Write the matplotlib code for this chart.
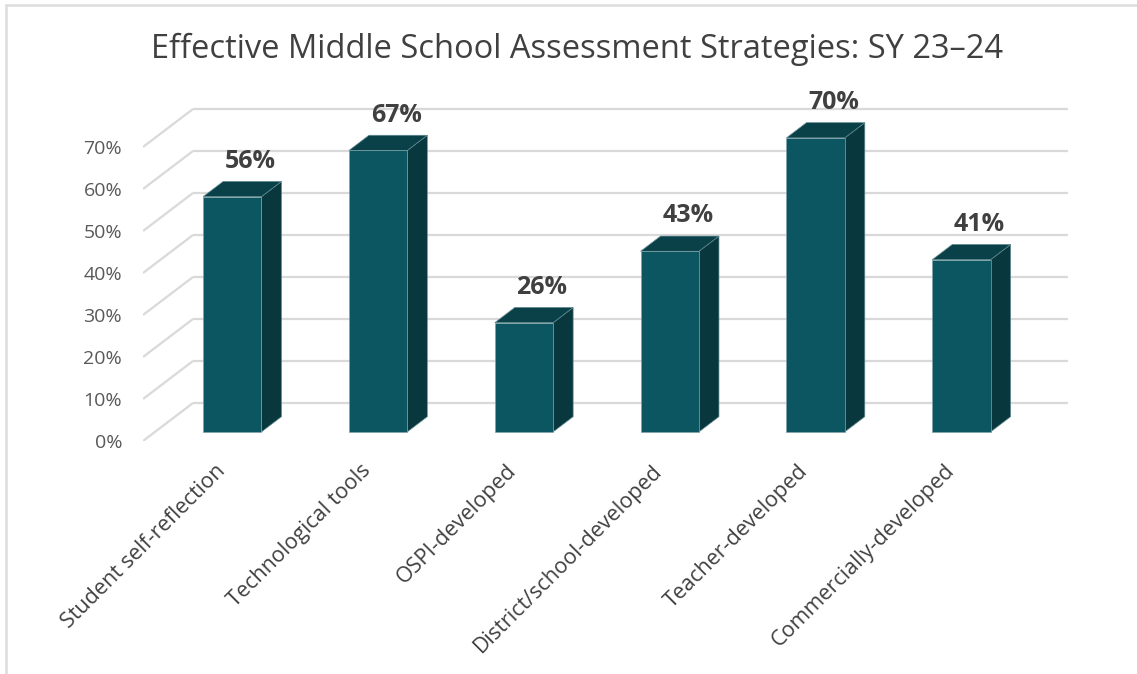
import matplotlib.pyplot as plt
from matplotlib.patches import Polygon, Rectangle

# data
categories = ["Student self-reflection", "Technological tools", "OSPI-developed",
              "District/school-developed", "Teacher-developed", "Commercially-developed"]
values = [56, 67, 26, 43, 70, 41]
ticks = [0, 10, 20, 30, 40, 50, 60, 70]
title = "Effective Middle School Assessment Strategies: SY 23\u201324"

# fake 3d look: depth offsets in data units (category, percent)
DX = 0.343
DY = 9.05
Z1, Z2 = 0.24, 0.64      # front / back of bars as fraction of floor depth
GAP, W = 0.33, 0.40       # bar start and width inside a category

front_col = "#0c5661"
top_col = "#0a4149"
side_col = "#08373e"
grid_col = "#d9d9d9"
text_col = "#404040"

plt.rcParams['font.family'] = ['Open Sans', 'DejaVu Sans']

fig = plt.figure(figsize=(11.37, 6.74), dpi=100)
ax = fig.add_axes([143 / 1137, 233 / 674, 925 / 1137, 80 * 4.2 / 674])
ax.set_xlim(0, len(categories) + DX)
ax.set_ylim(0, 80)
for s in ax.spines.values():
    s.set_visible(False)

# walls / gridlines
for t in ticks:
    ax.plot([DX, len(categories) + DX], [t + DY, t + DY], color=grid_col, lw=1.6, zorder=1,
            solid_capstyle='butt')
    ax.plot([0, DX], [t, t + DY], color=grid_col, lw=1.6, zorder=1, solid_capstyle='butt')

# bars
for i, v in enumerate(values):
    xl = i + GAP
    xr = xl + W
    front = [(xl + Z1 * DX, Z1 * DY), (xr + Z1 * DX, Z1 * DY),
             (xr + Z1 * DX, v + Z1 * DY), (xl + Z1 * DX, v + Z1 * DY)]
    top = [(xl + Z1 * DX, v + Z1 * DY), (xr + Z1 * DX, v + Z1 * DY),
           (xr + Z2 * DX, v + Z2 * DY), (xl + Z2 * DX, v + Z2 * DY)]
    side = [(xr + Z1 * DX, Z1 * DY), (xr + Z2 * DX, Z2 * DY),
            (xr + Z2 * DX, v + Z2 * DY), (xr + Z1 * DX, v + Z1 * DY)]
    ax.add_patch(Polygon(side, closed=True, fc=side_col, ec="#5f8a90", lw=0.5, zorder=3))
    ax.add_patch(Polygon(top, closed=True, fc=top_col, ec="#5f8a90", lw=0.5, zorder=3))
    ax.add_patch(Polygon(front, closed=True, fc=front_col, ec="#7fa3a8", lw=0.5, zorder=4))
    ax.text(i + GAP + W / 2 + 0.6 * DX, v + 7.6, f"{v}%", ha='center', va='bottom',
            fontsize=18, fontweight='bold', color=text_col, zorder=5)

# axis labels
ax.set_yticks(ticks)
ax.set_yticklabels([f"{t}%" for t in ticks], fontsize=14, color="#595959")
ax.set_xticks([i + 0.49 for i in range(len(categories))])
ax.set_xticklabels(categories, rotation=45, ha='right', rotation_mode='anchor',
                   fontsize=15.5, color=text_col)
ax.tick_params(axis='y', length=0, pad=15)
ax.tick_params(axis='x', length=0, pad=14)

fig.text(577 / 1137, 1 - 49 / 674, title, ha='center', va='center', fontsize=23.5,
         color=text_col)

# chart frame
fig.add_artist(Rectangle((6 / 1137, -0.1), 1.2, 1 - 5 / 674 + 0.1, transform=fig.transFigure,
                         fill=False, ec="#dcdcdc", lw=1.8))

fig.savefig("out.png", dpi=100)
